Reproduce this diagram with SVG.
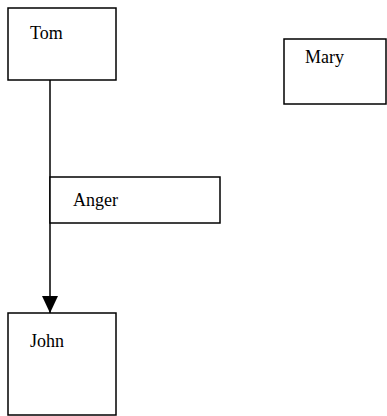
<svg xmlns="http://www.w3.org/2000/svg" width="387" height="416" viewBox="0 0 387 416">
<style>
.box{fill:#fff;stroke:#000;stroke-width:1.5}
.lbl{font-family:"Liberation Serif","Times New Roman",serif;font-size:18px;fill:#000}
.edge{stroke:#000;stroke-width:1.5;fill:none}
</style>
<defs>
<marker id="arr" markerWidth="17" markerHeight="16" refX="17" refY="8" orient="auto" markerUnits="userSpaceOnUse">
<path d="M0,0 L17,8 L0,16 z" fill="#000"/>
</marker>
</defs>
<g id="connectors">
<line class="edge" x1="50" y1="80" x2="50" y2="313" marker-end="url(#arr)"/>
</g>
<g id="tom">
<rect class="box" x="8" y="8" width="108" height="72"/>
<text class="lbl" x="30" y="39">Tom</text>
</g>
<g id="mary">
<rect class="box" x="284" y="39" width="102" height="65"/>
<text class="lbl" x="305" y="63">Mary</text>
</g>
<g id="anger">
<rect class="box" x="50" y="177" width="170" height="46"/>
<text class="lbl" x="73" y="206">Anger</text>
</g>
<g id="john">
<rect class="box" x="8" y="313" width="108" height="102"/>
<text class="lbl" x="30" y="347">John</text>
</g>
</svg>
